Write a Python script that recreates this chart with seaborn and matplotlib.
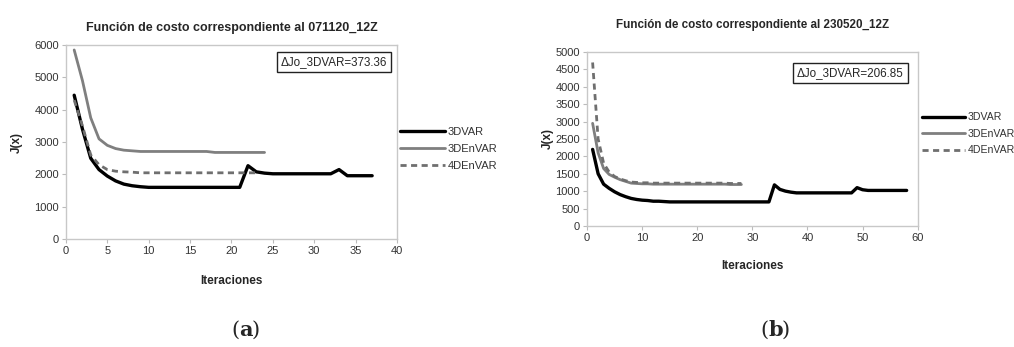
import matplotlib
matplotlib.use("Agg")
import matplotlib.pyplot as plt
import numpy as np
import pandas as pd
import seaborn as sns

# ── datos panel (a): 071120_12Z ──
a_3dvar = [4450, 3400, 2500, 2150, 1950, 1800, 1700, 1650, 1620, 1600,
           1600, 1600, 1600, 1600, 1600, 1600, 1600, 1600, 1600, 1600,
           1600, 2270, 2080, 2040, 2020, 2020, 2020, 2020, 2020, 2020,
           2020, 2020, 2150, 1960, 1960, 1960, 1960]
a_3denvar = [5850, 4900, 3750, 3100, 2900, 2800, 2750, 2730, 2710, 2710,
             2710, 2710, 2710, 2710, 2710, 2710, 2710, 2680, 2680, 2680,
             2680, 2680, 2680, 2680]
a_4denvar = [4300, 3500, 2600, 2300, 2150, 2100, 2080, 2070, 2050, 2050,
             2050, 2050, 2050, 2050, 2050, 2050, 2050, 2050, 2050, 2050,
             2050, 2050, 2050]

# ── datos panel (b): 230520_12Z ──
b_3dvar = [2200, 1500, 1200, 1080, 980, 900, 840, 790, 760, 740,
           730, 710, 710, 700, 690, 690, 690, 690, 690, 690,
           690, 690, 690, 690, 690, 690, 690, 690, 690, 690,
           690, 690, 690, 1180, 1050, 1000, 970, 950, 950, 950,
           950, 950, 950, 950, 950, 950, 950, 950, 1100, 1040,
           1020, 1020, 1020, 1020, 1020, 1020, 1020, 1020]
b_3denvar = [2950, 2100, 1650, 1480, 1400, 1330, 1280, 1230, 1220, 1210,
             1210, 1200, 1200, 1200, 1200, 1200, 1200, 1200, 1200, 1200,
             1200, 1200, 1200, 1200, 1200, 1190, 1190, 1190]
b_4denvar = [4700, 2500, 1800, 1550, 1420, 1350, 1300, 1260, 1250, 1240,
             1240, 1230, 1230, 1230, 1230, 1230, 1230, 1230, 1230, 1230,
             1230, 1230, 1230, 1230, 1230, 1220, 1220, 1220]

panels = [
    {"title": "Función de costo correspondiente al 071120_12Z",
     "series": [a_3dvar, a_3denvar, a_4denvar], "delta": "ΔJo_3DVAR=373.36",
     "xmax": 40, "xstep": 5, "ymax": 6000, "ystep": 1000, "tag": "a"},
    {"title": "Función de costo correspondiente al 230520_12Z",
     "series": [b_3dvar, b_3denvar, b_4denvar], "delta": "ΔJo_3DVAR=206.85",
     "xmax": 60, "xstep": 10, "ymax": 5000, "ystep": 500, "tag": "b"},
]
names = ["3DVAR", "3DEnVAR", "4DEnVAR"]
colors = ["#000000", "#7f7f7f", "#6f6f6f"]
widths = [2.4, 2.0, 2.0]
styles = ["-", "-", (0, (2.2, 1.6))]

sns.set_theme(style="white")
plt.rcParams["font.family"] = ["Liberation Sans", "DejaVu Sans"]

fig = plt.figure(figsize=(10.14, 3.47), dpi=100)

# posiciones de cada panel (fracciones de figura)
layout = [
    {"ax": [0.065, 0.311, 0.3265, 0.559], "leg": (0.394, 0.571), "leg_fs": 8,
     "tag_x": 0.236, "title_fs": 9, "title_pad": 10, "xlab_pad": 14,
     "ylab_x": -0.13, "box": (0.97, 0.943)},
    {"ax": [0.579, 0.349, 0.326, 0.501], "leg": (0.909, 0.614), "leg_fs": 7.6,
     "tag_x": 0.758, "title_fs": 8.4, "title_pad": 17, "xlab_pad": 12,
     "ylab_x": -0.10, "box": (0.958, 0.914)},
]

for p, lay in zip(panels, layout):
    ax = fig.add_axes(lay["ax"])
    for vals, name, c, lw, ls in zip(p["series"], names, colors, widths, styles):
        df = pd.DataFrame({"it": np.arange(1, len(vals) + 1), "J": vals})
        sns.lineplot(data=df, x="it", y="J", ax=ax, color=c, lw=lw,
                     linestyle=ls, label=name)
    ax.set_xlim(0, p["xmax"])
    ax.set_ylim(0, p["ymax"])
    ax.set_xticks(np.arange(0, p["xmax"] + 1, p["xstep"]))
    ax.set_yticks(np.arange(0, p["ymax"] + 1, p["ystep"]))
    ax.tick_params(axis="both", labelsize=8, labelcolor="#333333", length=3,
                   width=0.8, direction="out", bottom=True, left=True, pad=2,
                   color="#bbbbbb")
    for s in ax.spines.values():
        s.set_color("#c8c8c8")
        s.set_linewidth(1.0)
    ax.set_xlabel("Iteraciones", fontsize=8.5, fontweight="bold", labelpad=lay["xlab_pad"])
    ax.set_ylabel("J(x)", fontsize=8.5, fontweight="bold")
    ax.yaxis.set_label_coords(lay["ylab_x"], 0.5)
    ax.set_title(p["title"], fontsize=lay["title_fs"], fontweight="bold", pad=lay["title_pad"])
    bx, by = lay["box"]
    ax.text(bx, by, p["delta"], transform=ax.transAxes, ha="right",
            va="top", fontsize=8.4,
            bbox=dict(boxstyle="square,pad=0.35", fc="white", ec="#222222", lw=1))
    leg = ax.legend(loc="center left", bbox_to_anchor=lay["leg"],
                    bbox_transform=fig.transFigure, frameon=False,
                    fontsize=lay["leg_fs"], handlelength=4.1, handletextpad=0.25,
                    labelspacing=0.62, borderaxespad=0, borderpad=0)
    for t in leg.get_texts():
        t.set_color("#333333")
    tx = lay["tag_x"]
    fig.text(tx, 0.02, "(", fontsize=15, family="DejaVu Serif", ha="right", va="bottom")
    fig.text(tx, 0.02, p["tag"], fontsize=15, family="DejaVu Serif",
             fontweight="bold", ha="left", va="bottom")
    fig.text(tx + 0.0125, 0.02, ")", fontsize=15, family="DejaVu Serif",
             ha="left", va="bottom")

fig.savefig("out.png", dpi=100)
